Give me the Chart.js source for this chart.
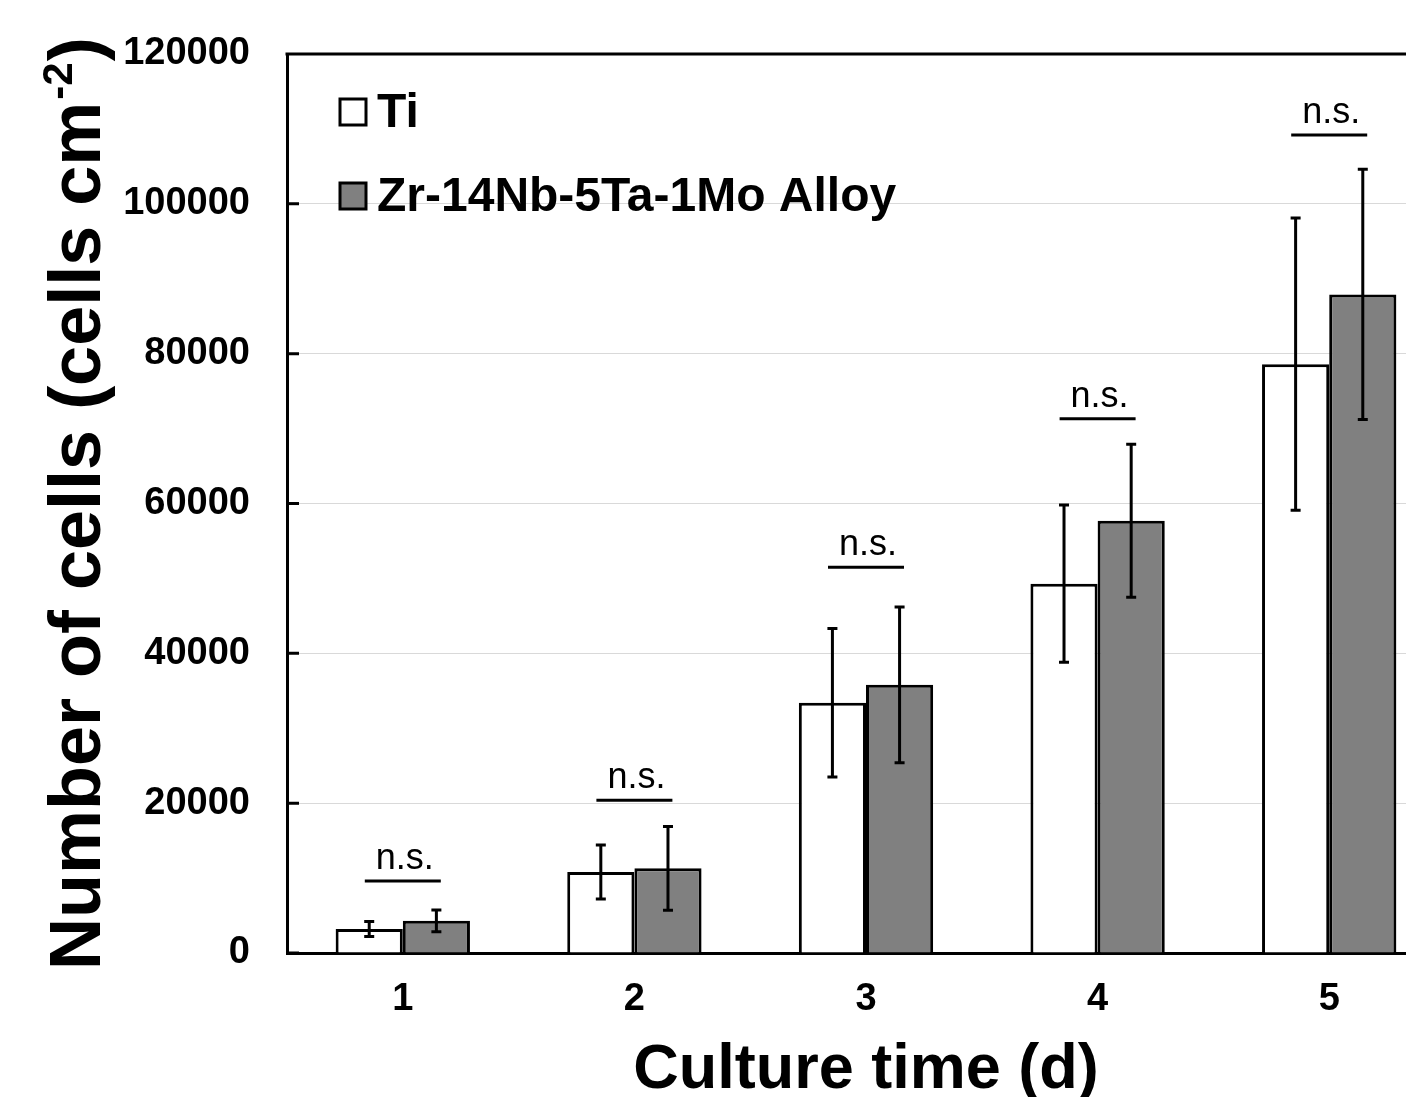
<!DOCTYPE html>
<html>
<head>
<meta charset="utf-8">
<title>Number of cells vs culture time</title>
<script src="https://cdn.jsdelivr.net/npm/chart.js@4.4.1/dist/chart.umd.min.js"></script>
<style>
  html, body { margin: 0; padding: 0; background: #fff; overflow: hidden; }
  #wrap { width: 1406px; height: 1097px; overflow: hidden; }
  canvas { display: block; }
</style>
</head>
<body>
<div id="wrap"><canvas id="chart" width="1450" height="1097"></canvas></div>
<script>
  // ---- data ----
  const days = ['1', '2', '3', '4', '5'];
  const tiMean = [3200, 10800, 33400, 49300, 78600];
  const tiErr = [1000, 3600, 9900, 10500, 19500];
  const alloyMean = [4300, 11300, 35800, 57700, 87900];
  const alloyErr = [1450, 5600, 10400, 10200, 16700];
  const nsLevel = [9600, 20400, 51500, 71300, 109200];
  const nsText = ['n.s.', 'n.s.', 'n.s.', 'n.s.', 'n.s.'];
  const yMin = 0, yMax = 120000, yStep = 20000;

  const FONT = '"Liberation Sans", Arial, sans-serif';
  const errors = [tiErr, alloyErr];

  // error bars centred on each bar
  const errorBars = {
    id: 'errorBars',
    afterDatasetsDraw(chart) {
      const ctx = chart.ctx, y = chart.scales.y;
      ctx.save();
      ctx.strokeStyle = '#000';
      ctx.lineWidth = 3;
      chart.data.datasets.forEach(function (ds, i) {
        chart.getDatasetMeta(i).data.forEach(function (bar, j) {
          const v = ds.data[j], e = errors[i][j];
          const top = y.getPixelForValue(v + e), bot = y.getPixelForValue(v - e);
          ctx.beginPath();
          ctx.moveTo(bar.x, top); ctx.lineTo(bar.x, bot);
          ctx.moveTo(bar.x - 5, top); ctx.lineTo(bar.x + 5, top);
          ctx.moveTo(bar.x - 5, bot); ctx.lineTo(bar.x + 5, bot);
          ctx.stroke();
        });
      });
      ctx.restore();
    }
  };

  // frame top line, inner y ticks, n.s. marks, legend and y title
  const decor = {
    id: 'decor',
    afterDraw(chart) {
      const ctx = chart.ctx, a = chart.chartArea;
      const x = chart.scales.x, y = chart.scales.y;
      ctx.save();
      ctx.strokeStyle = '#000';
      ctx.lineWidth = 3;
      ctx.beginPath();
      ctx.moveTo(a.left - 1.5, a.top); ctx.lineTo(a.right, a.top);
      y.ticks.forEach(function (t) {
        const py = y.getPixelForValue(t.value);
        ctx.moveTo(a.left, py); ctx.lineTo(a.left + 12, py);
      });
      ctx.stroke();

      // significance marks
      ctx.fillStyle = '#000';
      ctx.font = '36px ' + FONT;
      ctx.textAlign = 'center';
      ctx.textBaseline = 'alphabetic';
      nsLevel.forEach(function (lv, i) {
        const cx = x.getPixelForValue(i), py = y.getPixelForValue(lv);
        ctx.beginPath();
        ctx.moveTo(cx - 38, py); ctx.lineTo(cx + 38, py);
        ctx.stroke();
        ctx.fillText(nsText[i], cx + 2, py - 12);
      });

      // legend
      ctx.font = 'bold 48px ' + FONT;
      ctx.textAlign = 'left';
      ctx.textBaseline = 'middle';
      chart.data.datasets.forEach(function (ds, i) {
        const by = 99 + i * 84;
        ctx.fillStyle = ds.backgroundColor;
        ctx.fillRect(340, by, 26, 26);
        ctx.strokeRect(340, by, 26, 26);
        ctx.fillStyle = '#000';
        ctx.fillText(ds.label, 377, by + 15);
      });

      // y title with superscript
      ctx.translate(100, 970);
      ctx.rotate(-Math.PI / 2);
      ctx.textBaseline = 'alphabetic';
      ctx.font = 'bold 72px ' + FONT;
      const main = 'Number of cells (cells cm';
      ctx.fillText(main, 0, 0);
      let px = ctx.measureText(main).width + 2;
      ctx.font = 'bold 42px ' + FONT;
      ctx.fillText('-2', px, -28);
      px += ctx.measureText('-2').width + 1;
      ctx.font = 'bold 72px ' + FONT;
      ctx.fillText(')', px, 0);
      ctx.restore();
    }
  };

  new Chart(document.getElementById('chart'), {
    type: 'bar',
    data: {
      labels: days,
      datasets: [
        { label: 'Ti', data: tiMean, backgroundColor: '#ffffff', borderColor: '#000', borderWidth: 3,
          categoryPercentage: 0.58, barPercentage: 1.0 },
        { label: 'Zr-14Nb-5Ta-1Mo Alloy', data: alloyMean, backgroundColor: '#808080', borderColor: '#000', borderWidth: 3,
          categoryPercentage: 0.58, barPercentage: 1.0 },
      ],
    },
    options: {
      responsive: false,
      animation: false,
      layout: { padding: { top: 54, right: 5, left: 0, bottom: 0 } },
      plugins: { legend: { display: false }, tooltip: { enabled: false } },
      scales: {
        x: {
          grid: { display: false, drawTicks: false },
          border: { color: '#000', width: 3 },
          ticks: { color: '#000', padding: 24, font: { family: FONT, size: 38, weight: 'bold' } },
          title: { display: true, text: 'Culture time (d)', color: '#000', padding: 0,
            font: { family: FONT, size: 63, weight: 'bold', lineHeight: 0.84 } },
          afterFit: function (s) { s.height = 144; },
        },
        y: {
          min: yMin, max: yMax,
          grid: { color: '#d9d9d9', lineWidth: 1, drawTicks: false },
          border: { color: '#000', width: 3 },
          ticks: { stepSize: yStep, color: '#000', padding: 37, font: { family: FONT, size: 38, weight: 'bold' },
            callback: function (v) { return String(v); } },
          // fixed width; tick padding must not push the plot top down
          afterFit: function (s) { s.width = 287; s.paddingTop = 0; s.paddingBottom = 0; },
        },
      },
    },
    plugins: [errorBars, decor],
  });
</script>
</body>
</html>
